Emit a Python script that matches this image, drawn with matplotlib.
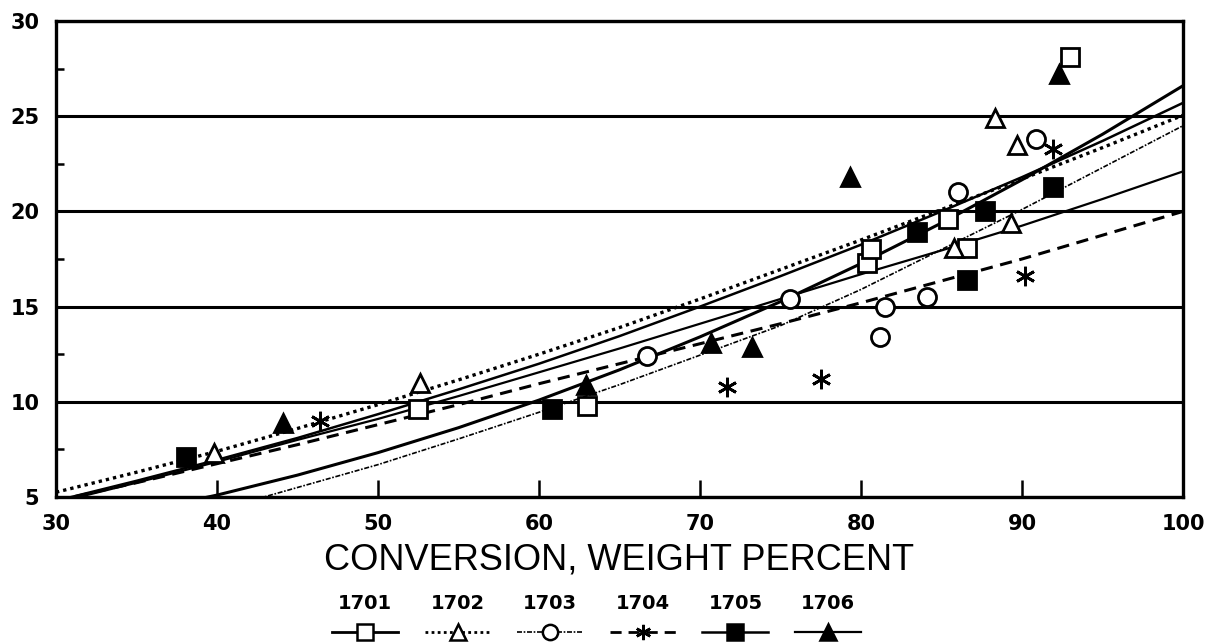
import matplotlib
matplotlib.use("Agg")
import matplotlib.pyplot as plt
from matplotlib.lines import Line2D
import numpy as np

# ---------------- data ----------------
series_names = ["1701", "1702", "1703", "1704", "1705", "1706"]

# measured points
x1701 = [52.5, 63.0, 80.4, 80.6, 85.4, 86.6, 93.0]
y1701 = [9.6, 9.8, 17.3, 18.0, 19.6, 18.1, 28.1]
x1702 = [39.8, 52.6, 85.8, 88.3, 89.3, 89.7]
y1702 = [7.3, 11.0, 18.1, 24.9, 19.4, 23.5]
x1703 = [66.7, 75.6, 81.2, 81.5, 84.1, 86.0, 90.9]
y1703 = [12.4, 15.4, 13.4, 15.0, 15.5, 21.0, 23.8]
x1704 = [46.4, 71.7, 77.5, 90.2, 91.9]
y1704 = [9.0, 10.8, 11.2, 16.6, 23.3]
x1705 = [38.1, 60.8, 83.5, 86.6, 87.7, 91.9]
y1705 = [7.1, 9.6, 18.9, 16.4, 20.0, 21.3]
x1706 = [44.1, 62.9, 70.7, 73.2, 79.3, 92.3]
y1706 = [8.9, 10.9, 13.1, 12.9, 21.8, 27.2]

# fitted curves
curve_x = [30, 35, 40, 45, 50, 55, 60, 65, 70, 75, 80, 85, 90, 95, 100]
fit1701 = [3.3, 4.2, 5.1, 6.15, 7.33, 8.64, 10.09, 11.68, 13.41, 15.26, 17.26, 19.39, 21.66, 24.05, 26.6]
fit1702 = [5.25, 6.3, 7.4, 8.6, 9.85, 11.15, 12.5, 13.9, 15.4, 16.95, 18.5, 20.1, 21.7, 23.35, 25.05]
fit1703 = [2.0, 3.0, 4.3, 5.5, 6.7, 8.05, 9.45, 10.9, 12.45, 14.0, 15.9, 18.0, 20.1, 22.3, 24.5]
fit1704 = [4.8, 5.75, 6.75, 7.75, 8.8, 9.85, 10.95, 12.0, 13.05, 14.1, 15.2, 16.35, 17.5, 18.75, 20.0]
fit1705 = [4.8, 5.85, 6.95, 8.1, 9.35, 10.65, 12.0, 13.45, 15.0, 16.6, 18.25, 20.0, 21.8, 23.7, 25.7]
fit1706 = [4.7, 5.75, 6.85, 8.0, 9.1, 10.3, 11.55, 12.8, 14.1, 15.4, 16.7, 17.95, 19.25, 20.65, 22.1]

x_ticks = [30, 40, 50, 60, 70, 80, 90, 100]
y_ticks = [5, 10, 15, 20, 25, 30]
x_label = "CONVERSION, WEIGHT PERCENT"

# ---------------- styles ----------------
styles = {
    "1701": dict(ls="-", lw=2.2, marker="s", mfc="white"),
    "1702": dict(ls=(0, (1.0, 1.2)), lw=2.4, marker="^", mfc="white"),
    "1703": dict(ls=(0, (3, 1, 1, 1)), lw=1.2, marker="o", mfc="white"),
    "1704": dict(ls=(0, (4, 2.5)), lw=2.2, marker=(6, 2, 0), mfc="black"),
    "1705": dict(ls="-", lw=1.8, marker="s", mfc="black"),
    "1706": dict(ls="-", lw=1.6, marker="^", mfc="black"),
}
pts = {
    "1701": (x1701, y1701), "1702": (x1702, y1702), "1703": (x1703, y1703),
    "1704": (x1704, y1704), "1705": (x1705, y1705), "1706": (x1706, y1706),
}
fits = {"1701": fit1701, "1702": fit1702, "1703": fit1703,
        "1704": fit1704, "1705": fit1705, "1706": fit1706}

W, H = 1223, 643
fig = plt.figure(figsize=(W / 100, H / 100), dpi=100)
ax = fig.add_axes([56 / W, 146 / H, 1127 / W, 476 / H])

for name in series_names:
    st = styles[name]
    ax.plot(curve_x, fits[name], color="black", linestyle=st["ls"], lw=st["lw"],
            solid_capstyle="butt", dash_capstyle="butt", zorder=3)
    xs, ys = pts[name]
    ms = 13 if st["marker"] != (6, 2, 0) else 14
    ax.plot(xs, ys, linestyle="none", marker=st["marker"], ms=ms,
            mfc=st["mfc"], mec="black", mew=2.0, zorder=4, clip_on=False)

ax.set_xlim(30, 100)
ax.set_ylim(5, 30)
ax.set_xticks(x_ticks)
ax.set_yticks(y_ticks)
ax.set_yticks([7.5, 12.5, 17.5, 22.5, 27.5], minor=True)
ax.yaxis.grid(True, which="major", color="black", lw=2.2)
ax.set_axisbelow(True)

ax.tick_params(axis="x", which="major", direction="in", length=12, width=1.8, pad=12)
ax.tick_params(axis="y", which="major", direction="in", length=0, pad=12)
ax.tick_params(axis="y", which="minor", direction="in", length=6, width=1.8)
for lab in ax.get_xticklabels() + ax.get_yticklabels():
    lab.set_fontfamily("DejaVu Sans")
    lab.set_fontweight("bold")
    lab.set_fontsize(15)
for sp in ax.spines.values():
    sp.set_linewidth(2.4)

ax.set_xlabel(x_label, fontfamily="Liberation Sans", fontsize=26, labelpad=6)

# ---------------- custom legend ----------------
leg_cx0, leg_dx = 365, 92.6
line_y = 632
for i, name in enumerate(series_names):
    st = styles[name]
    cx = leg_cx0 + leg_dx * i
    xs = [(cx - 33) / W, cx / W, (cx + 33) / W]
    yy = [(H - line_y) / H] * 3
    ln = Line2D(xs, yy, transform=fig.transFigure, color="black",
                linestyle=st["ls"], lw=min(st["lw"], 2.0), marker=st["marker"],
                markevery=[1], ms=11, mfc=st["mfc"], mec="black", mew=1.8)
    fig.add_artist(ln)
    fig.text(cx / W, (H - 613) / H, name, ha="center", va="bottom",
             fontfamily="DejaVu Sans", fontweight="bold", fontsize=14)

fig.savefig("out.png", dpi=100)
